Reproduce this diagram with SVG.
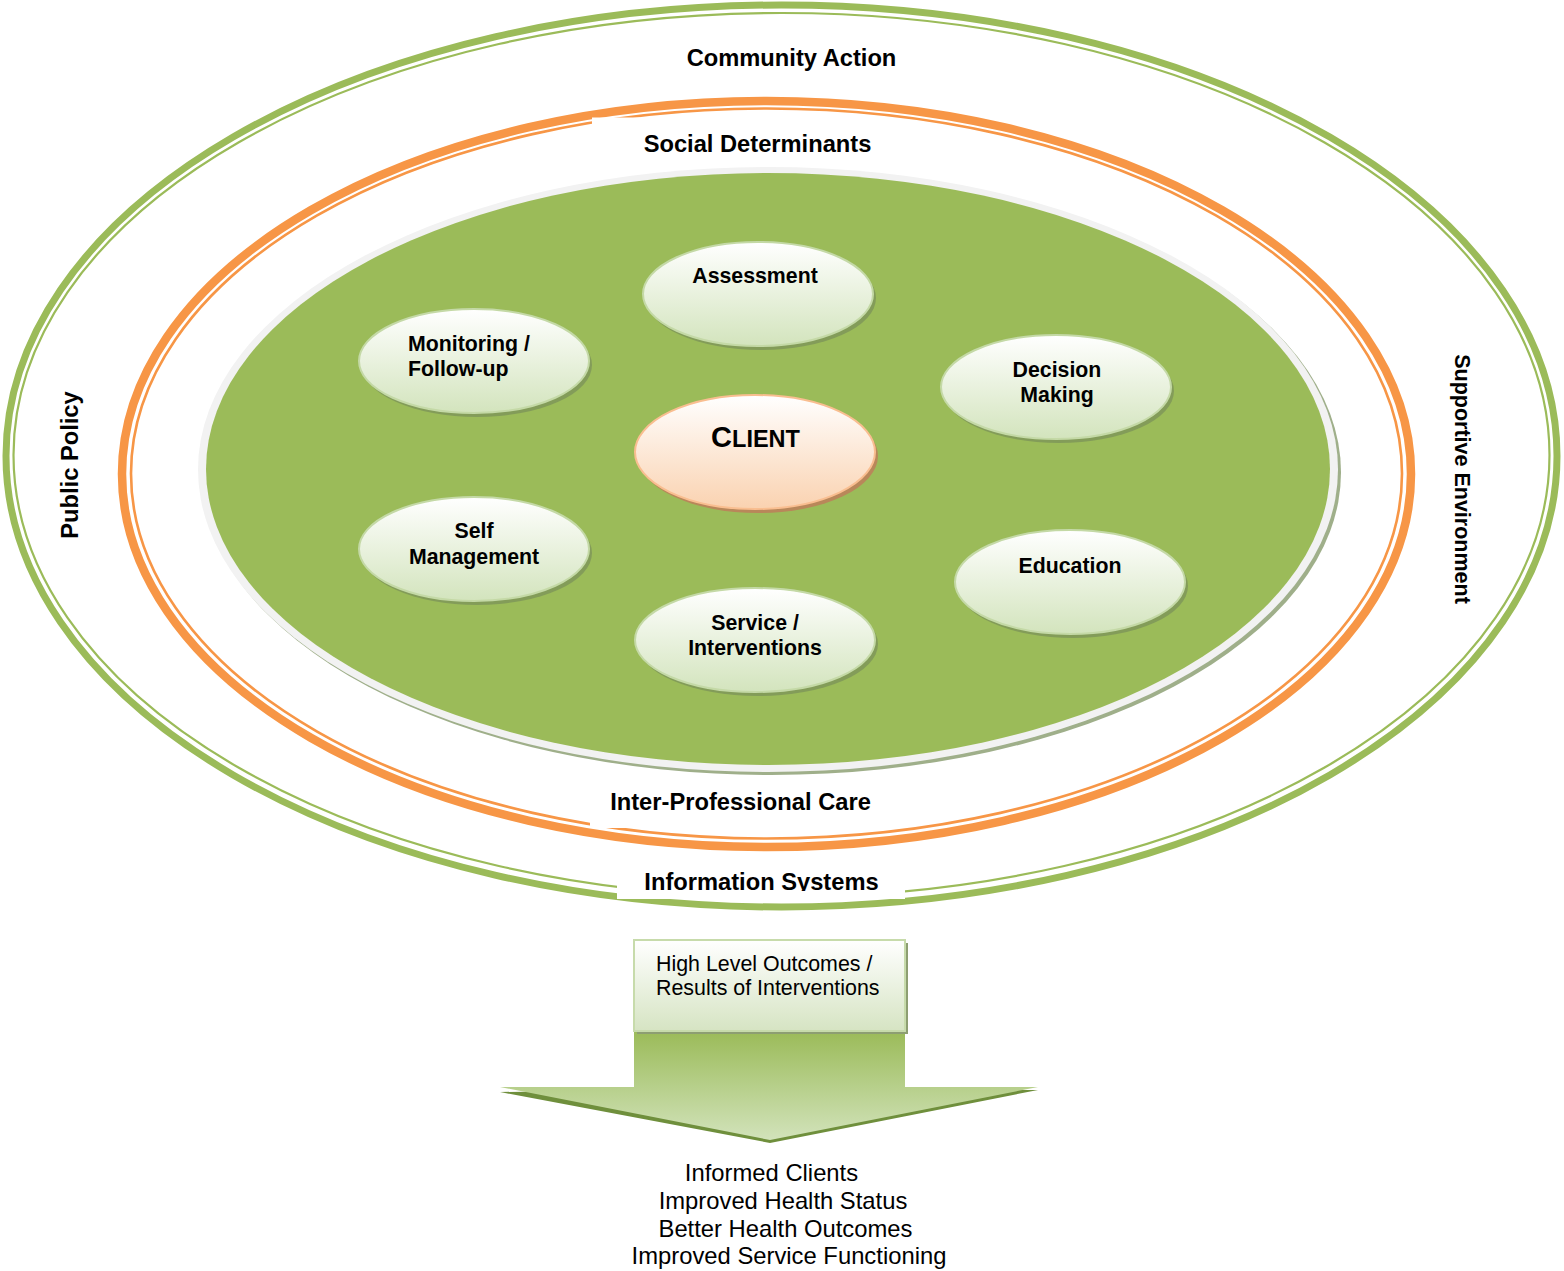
<svg xmlns="http://www.w3.org/2000/svg" width="1564" height="1271" viewBox="0 0 1564 1271">
<defs>
<linearGradient id="gNode" x1="0" y1="0" x2="0" y2="1">
<stop offset="0" stop-color="#ffffff"/>
<stop offset="1" stop-color="#d3e4bd"/>
</linearGradient>
<linearGradient id="gClient" x1="0" y1="0" x2="0" y2="1">
<stop offset="0" stop-color="#ffffff"/>
<stop offset="1" stop-color="#fad2b0"/>
</linearGradient>
<linearGradient id="gBox" x1="0" y1="0" x2="0" y2="1">
<stop offset="0" stop-color="#ffffff"/>
<stop offset="1" stop-color="#d6e4c3"/>
</linearGradient>
<linearGradient id="gArrow" gradientUnits="userSpaceOnUse" x1="0" y1="1032" x2="0" y2="1140">
<stop offset="0" stop-color="#9bbb59"/>
<stop offset="1" stop-color="#d2e3bb"/>
</linearGradient>
<clipPath id="clipInfo"><rect x="600" y="850" width="320" height="41"/></clipPath>
</defs>
<style>
.lbl{font-family:"Liberation Sans",Arial,sans-serif;font-weight:bold;fill:#000;}
.big{font-size:23.7px;}
.nd{font-size:21.3px;text-anchor:middle;}
.reg{font-family:"Liberation Sans",Arial,sans-serif;fill:#000;}
.gthick{fill:none;stroke:#9bbb59;stroke-width:7;}
.gthin{fill:none;stroke:#9bbb59;stroke-width:2.2;}
.othick{fill:none;stroke:#f79646;stroke-width:8.5;}
.othin{fill:none;stroke:#f79646;stroke-width:2.6;}
.shd{fill:#7f9659;opacity:0.85;}
.node{fill:url(#gNode);stroke:#c4d9a6;stroke-width:2;}
</style>

<g id="ring-outer">
<ellipse class="gthick" cx="781.5" cy="456" rx="775.5" ry="451"/>
<ellipse class="gthin" cx="781.5" cy="455" rx="768" ry="442"/>
</g>
<g id="ring-orange">
<ellipse class="othick" cx="766.5" cy="474" rx="644.5" ry="373"/>
<ellipse class="othin" cx="766.5" cy="473.5" rx="635.5" ry="365"/>
<rect x="592" y="117.5" width="48" height="14" fill="#fff"/>
<rect x="590" y="800" width="40" height="28" fill="#fff"/>
</g>

<g id="core">
<ellipse cx="771" cy="472.5" rx="570" ry="302.5" fill="#9faf8a"/>
<ellipse cx="768" cy="469.5" rx="570" ry="302.5" fill="#f2f2f2"/>
<ellipse cx="768" cy="469" rx="562" ry="296" fill="#9bbb59"/>
</g>

<g id="labels">
<text class="lbl big" x="791.5" y="66" text-anchor="middle">Community Action</text>
<text class="lbl big" x="757.5" y="152" text-anchor="middle">Social Determinants</text>
<text class="lbl big" x="740.5" y="810" text-anchor="middle">Inter-Professional Care</text>
<g id="info-systems">
<rect x="617" y="864" width="288" height="35" fill="#fff"/>
<text class="lbl big" x="761.5" y="890" text-anchor="middle" clip-path="url(#clipInfo)">Information Systems</text>
</g>
<text class="lbl big" transform="translate(78,465) rotate(-90)" text-anchor="middle">Public Policy</text>
<text class="lbl" style="font-size:21.5px" transform="translate(1455,479) rotate(90)" text-anchor="middle">Supportive Environment</text>
</g>

<g id="node-assessment">
<ellipse class="shd" cx="761" cy="298" rx="115" ry="52"/>
<ellipse class="node" cx="758" cy="294" rx="115" ry="52"/>
<text class="lbl nd" x="755" y="283">Assessment</text>
</g>
<g id="node-monitoring">
<ellipse class="shd" cx="477" cy="365" rx="115" ry="52"/>
<ellipse class="node" cx="474" cy="361" rx="115" ry="52"/>
<text class="lbl" style="font-size:21.3px" x="408" y="351">Monitoring /</text>
<text class="lbl" style="font-size:21.3px" x="408" y="376">Follow-up</text>
</g>
<g id="node-decision">
<ellipse class="shd" cx="1059" cy="391" rx="115" ry="52"/>
<ellipse class="node" cx="1056" cy="387" rx="115" ry="52"/>
<text class="lbl nd" x="1057" y="377">Decision</text>
<text class="lbl nd" x="1057" y="402">Making</text>
</g>
<g id="node-client">
<ellipse cx="758" cy="456" rx="120" ry="57" fill="#b9875a"/>
<ellipse cx="755" cy="452" rx="120" ry="57" fill="url(#gClient)" stroke="#f9be90" stroke-width="2"/>
<text class="lbl" x="755.5" y="447" text-anchor="middle" style="font-size:29px">C<tspan style="font-size:23.5px">LIENT</tspan></text>
</g>
<g id="node-self">
<ellipse class="shd" cx="477" cy="553" rx="115" ry="52"/>
<ellipse class="node" cx="474" cy="549" rx="115" ry="52"/>
<text class="lbl nd" x="474" y="538">Self</text>
<text class="lbl nd" x="474" y="564">Management</text>
</g>
<g id="node-education">
<ellipse class="shd" cx="1073" cy="586" rx="115" ry="52"/>
<ellipse class="node" cx="1070" cy="582" rx="115" ry="52"/>
<text class="lbl nd" x="1070" y="573">Education</text>
</g>
<g id="node-service">
<ellipse class="shd" cx="758" cy="644" rx="120" ry="52"/>
<ellipse class="node" cx="755" cy="640" rx="120" ry="52"/>
<text class="lbl nd" x="755" y="630">Service /</text>
<text class="lbl nd" x="755" y="655">Interventions</text>
</g>

<g id="connectors">
<polygon points="634,1034 905,1034 905,1090 1038,1090 770,1143 500,1092 634,1090" fill="#6f8f3c"/>
<polygon points="634,1032 905,1032 905,1087 1038,1087 770,1140 500,1087 634,1087" fill="url(#gArrow)"/>
</g>

<g id="node-outcomes-box">
<rect x="637" y="943" width="271" height="91" fill="#8d9e72"/>
<rect x="634" y="940" width="271" height="91" fill="url(#gBox)" stroke="#c7dbab" stroke-width="2"/>
<text class="reg" style="font-size:21.4px" x="656" y="971">High Level Outcomes /</text>
<text class="reg" style="font-size:21.4px" x="656" y="995">Results of Interventions</text>
</g>

<g id="outcomes-list" class="reg" style="font-size:23.8px" text-anchor="middle">
<text x="771.5" y="1181">Informed Clients</text>
<text x="783" y="1209">Improved Health Status</text>
<text x="785.5" y="1237">Better Health Outcomes</text>
<text x="789" y="1264">Improved Service Functioning</text>
</g>
</svg>
